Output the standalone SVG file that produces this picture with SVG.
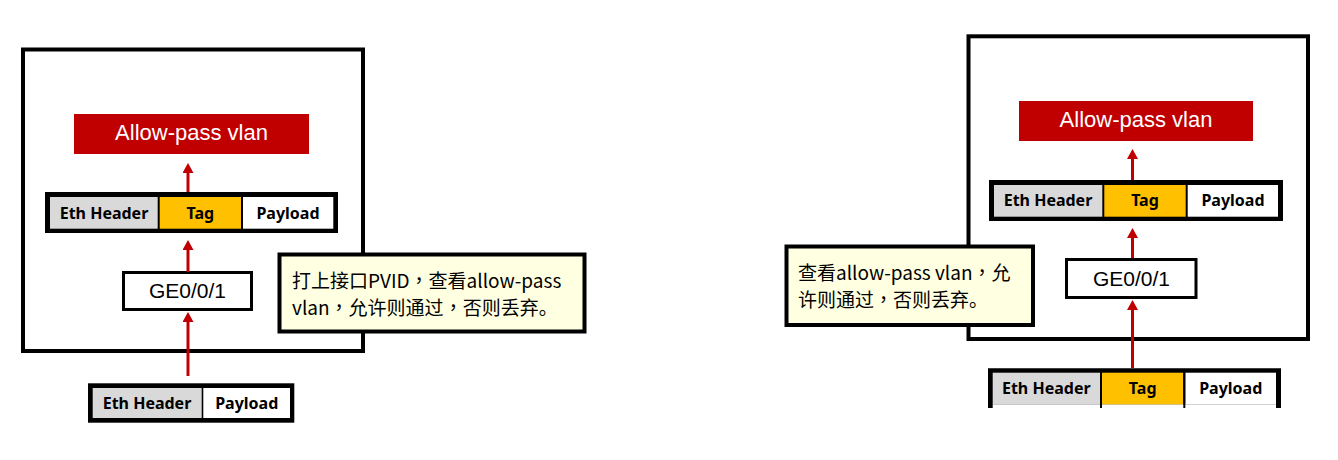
<svg xmlns="http://www.w3.org/2000/svg" width="1338" height="460" viewBox="0 0 1338 460">
<defs>
<marker id="ah" markerUnits="userSpaceOnUse" markerWidth="10" markerHeight="11" refX="0" refY="5.5" orient="auto" viewBox="0 0 10 11">
<path d="M0,0 L10,5.5 L0,11 z" fill="#C00000"/>
</marker>
<style>
.frame{fill:#fff;stroke:#000;stroke-width:4}
.vlan{fill:#C00000}
.vlant{font-family:"Liberation Sans",Arial,sans-serif;font-size:22px;fill:#fff;text-anchor:middle}
.pk{fill:#000}
.eth{fill:#D9D9D9}
.tag{fill:#FFC000}
.pay{fill:#fff}
.pkt{font-family:"Noto Sans","Open Sans",sans-serif;font-weight:bold;font-size:16px;fill:#000;text-anchor:middle}
.ge{fill:#fff;stroke:#000;stroke-width:3}
.get{font-family:"Liberation Sans",Arial,sans-serif;font-size:21px;fill:#000;text-anchor:middle}
.note{fill:#FFFFE1;stroke:#000;stroke-width:4}
.nt{font-family:"Noto Sans CJK SC","Noto Sans",sans-serif;font-size:19px;fill:#000}
.cm{font-family:"Noto Sans CJK TC","Noto Sans CJK SC",sans-serif}
.arr{stroke:#C00000;stroke-width:3;fill:none;marker-end:url(#ah)}
</style>
</defs>
<rect width="1338" height="460" fill="#fff"/>

<!-- LEFT PANEL -->
<g id="switch-left"><rect class="frame" x="23" y="49.5" width="340" height="301.5"/></g>
<g id="vlan-left">
<rect class="vlan" x="74" y="114" width="235" height="40"/>
<text class="vlant" x="191.5" y="140">Allow-pass vlan</text>
</g>
<g id="frame-left-tagged">
<rect class="pk" x="45" y="192" width="293" height="41"/>
<rect class="eth" x="50" y="197" width="107.7" height="31.7"/>
<rect class="tag" x="159.7" y="197" width="81.3" height="31.7"/>
<rect class="pay" x="243" y="197" width="90.3" height="31.7"/>
<text class="pkt" x="104" y="218.5">Eth Header</text>
<text class="pkt" x="200.3" y="218.5">Tag</text>
<text class="pkt" x="288" y="218.5">Payload</text>
</g>
<g id="ge-left">
<rect class="ge" x="123.5" y="272.5" width="128" height="37"/>
<text class="get" x="187.5" y="298">GE0/0/1</text>
</g>
<g id="frame-left-untagged">
<rect class="pk" x="88" y="383.3" width="206.3" height="39.4"/>
<rect class="eth" x="92.7" y="388" width="109" height="30"/>
<rect class="pay" x="203.3" y="388" width="86.7" height="30"/>
<text class="pkt" x="147" y="409">Eth Header</text>
<text class="pkt" x="246.7" y="409">Payload</text>
</g>
<g id="note-left">
<rect class="note" x="279.5" y="254.5" width="305" height="77"/>
<text class="nt" x="292" y="288">打上接口PVID<tspan class="cm">，</tspan>查看allow-pass</text>
<text class="nt" x="292" y="315">vlan<tspan class="cm">，</tspan>允许则通过<tspan class="cm">，</tspan>否则丢弃。</text>
</g>

<!-- RIGHT PANEL -->
<g id="switch-right"><rect class="frame" x="968.5" y="36.3" width="339.5" height="302.7"/></g>
<g id="vlan-right">
<rect class="vlan" x="1019" y="101" width="234" height="40"/>
<text class="vlant" x="1136" y="127">Allow-pass vlan</text>
</g>
<g id="frame-right-tagged">
<rect class="pk" x="989" y="180" width="294" height="41"/>
<rect class="eth" x="994" y="185" width="108.3" height="31.7"/>
<rect class="tag" x="1104.3" y="185" width="81.4" height="31.7"/>
<rect class="pay" x="1187.7" y="185" width="90.3" height="31.7"/>
<text class="pkt" x="1048" y="206">Eth Header</text>
<text class="pkt" x="1145" y="206">Tag</text>
<text class="pkt" x="1233" y="206">Payload</text>
</g>
<g id="ge-right">
<rect class="ge" x="1066.5" y="259.5" width="129.5" height="38"/>
<text class="get" x="1131.5" y="285.5">GE0/0/1</text>
</g>
<g id="frame-right-incoming">
<path d="M988,408 V368.3 H1281 V408 H1276 V404.3 H992.7 V408 Z" class="pk"/>
<rect class="eth" x="992.7" y="372.7" width="107.3" height="31.6"/>
<rect class="tag" x="1102" y="372.7" width="81.3" height="31.6"/>
<rect class="pay" x="1185.3" y="372.7" width="90.7" height="31.6"/>
<rect class="pk" x="1100" y="372.7" width="2" height="35.3"/>
<rect class="pk" x="1183.3" y="372.7" width="2" height="35.3"/>
<text class="pkt" x="1046.3" y="393.5">Eth Header</text>
<text class="pkt" x="1142.7" y="393.5">Tag</text>
<text class="pkt" x="1230.7" y="393.5">Payload</text>
</g>
<g id="note-right">
<rect class="note" x="786.5" y="246.5" width="246.5" height="78.5"/>
<text class="nt" x="798" y="280">查看allow-pass vlan<tspan class="cm">，</tspan>允</text>
<text class="nt" x="798" y="306.7">许则通过<tspan class="cm">，</tspan>否则丢弃。</text>
</g>

<!-- CONNECTORS -->
<g id="connectors">
<line class="arr" x1="188" y1="192" x2="188" y2="173"/>
<line class="arr" x1="188" y1="272" x2="188" y2="250"/>
<line class="arr" x1="188" y1="376" x2="188" y2="322"/>
<line class="arr" x1="1132.5" y1="180" x2="1132.5" y2="159"/>
<line class="arr" x1="1132.5" y1="258" x2="1132.5" y2="238"/>
<line class="arr" x1="1132.5" y1="368" x2="1132.5" y2="310"/>
</g>
</svg>
